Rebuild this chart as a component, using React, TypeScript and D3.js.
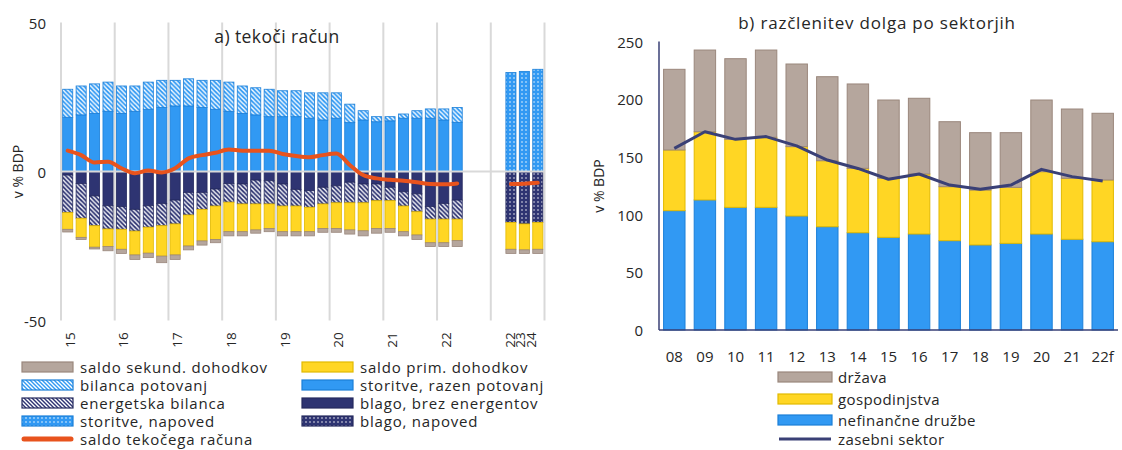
import React from 'react';
import * as d3 from 'd3';

// ---------- Left chart data (a) tekoči račun), % BDP ----------
const quarterYears = ['15', '16', '17', '18', '19', '20', '21', '22'];
const quarterNames = ['Q1', 'Q2', 'Q3', 'Q4'];
const forecastLabels = ['22', '23', '24'];

const storitveRazenPotovanj = [18.2, 19.0, 19.5, 20.2, 19.5, 20.2, 20.9, 21.5, 22.0, 22.0, 21.5, 20.9, 20.2, 19.5, 19.0, 18.4, 18.4, 18.4, 17.9, 17.3, 17.9, 16.4, 17.3, 16.7, 17.0, 17.9, 17.9, 17.9, 17.3, 16.5];
const bilancaPotovanj = [9.4, 9.7, 9.9, 9.8, 9.2, 8.5, 9.1, 9.1, 8.6, 9.1, 9.1, 9.7, 9.8, 9.2, 9.1, 9.2, 8.7, 8.7, 8.5, 9.1, 8.5, 6.2, 3.1, 1.7, 1.4, 1.4, 2.5, 3.1, 3.7, 5.0];
const blagoBrezEnergentov = [-1.2, -4.0, -8.2, -11.5, -11.8, -12.7, -11.5, -10.7, -9.6, -7.0, -7.0, -5.9, -4.0, -4.2, -2.9, -3.1, -4.2, -6.0, -6.4, -5.3, -4.8, -3.6, -4.2, -4.2, -5.3, -6.8, -7.5, -11.8, -10.7, -9.6];
const energetskaBilanca = [-12.6, -11.7, -10.0, -7.8, -7.6, -7.3, -7.2, -7.5, -8.0, -7.6, -5.7, -5.7, -6.3, -6.7, -8.0, -7.8, -7.4, -5.6, -5.6, -5.6, -5.7, -6.9, -6.3, -5.6, -4.5, -4.8, -6.0, -4.2, -5.3, -6.4];
const saldoPrimDohodkov = [-5.6, -6.4, -7.2, -5.9, -6.7, -8.0, -8.7, -10.2, -10.4, -10.4, -10.6, -11.2, -9.9, -9.3, -8.7, -8.2, -8.6, -8.6, -8.2, -8.2, -8.6, -9.1, -9.4, -9.3, -9.3, -8.6, -7.8, -7.9, -7.9, -7.2];
const saldoSekundDohodkov = [-0.9, -0.7, -0.6, -1.4, -1.4, -1.5, -1.5, -2.2, -1.5, -1.3, -1.4, -1.1, -1.4, -1.4, -1.1, -1.1, -1.4, -1.4, -1.4, -1.3, -1.3, -1.4, -1.7, -1.6, -1.3, -1.4, -1.5, -1.3, -1.3, -2.0];
const saldoTekocegaRacuna = [7.0, 5.5, 3.0, 3.3, 1.1, -0.6, 0.3, -0.3, 1.1, 4.4, 5.5, 6.3, 7.4, 7.0, 7.0, 7.0, 5.9, 5.2, 4.8, 5.5, 6.0, 2.2, -1.2, -2.3, -2.8, -3.1, -3.6, -4.2, -4.3, -4.0];

const storitveNapoved = [33.2, 33.6, 34.3];
const blagoNapoved = [-17.1, -17.6, -17.1];
const primNapoved = [-9.0, -8.7, -9.0];
const sekundNapoved = [-1.4, -1.2, -1.4];
const saldoNapoved = [-4.2, -4.1, -3.8];

// ---------- Right chart data (b) razčlenitev dolga po sektorjih) ----------
const debtYears = ['08', '09', '10', '11', '12', '13', '14', '15', '16', '17', '18', '19', '20', '21', '22f'];
const nefinancneDruzbe = [103.4, 112.7, 106.3, 106.3, 98.8, 89.5, 84.3, 80.3, 83.2, 77.4, 73.7, 75.1, 83.2, 78.6, 76.5];
const gospodinjstva = [52.6, 59.1, 58.9, 60.7, 60.1, 57.2, 55.8, 51.2, 52.0, 46.8, 47.6, 48.5, 54.0, 52.9, 53.5];
const drzava = [69.9, 70.8, 69.9, 75.6, 71.6, 72.8, 73.1, 67.8, 65.6, 56.3, 49.7, 47.4, 62.1, 60.0, 57.8];
const zasebniSektor = [157.4, 171.8, 165.2, 167.6, 159.5, 147.3, 140.0, 130.6, 135.2, 125.6, 121.9, 125.6, 139.2, 132.9, 129.1];

const leftYTicks = [-50, 0, 50];
const rightYTicks = [0, 50, 100, 150, 200, 250];

// ---------- Colors ----------
const C = {
  gray: '#b5a69d', grayS: '#9a877c',
  yellow: '#ffd624', yellowS: '#e2b900',
  blue: '#3199f3', blueS: '#1b7fd8',
  navy: '#2e3472', navyS: '#252a5e',
  orange: '#e8531d',
  grid: '#d9d9d9',
  axis: '#3a4076',
  text: '#262626',
};
const FONT = "'Open Sans', 'Noto Sans', sans-serif";

// ---------- Build left table ----------
const quarterKeys: string[] = [];
quarterYears.forEach((y) => quarterNames.forEach((q) => quarterKeys.push(y + q)));
const leftCats: string[] = [...quarterKeys.slice(0, storitveRazenPotovanj.length), 'gapA', 'gapB', 'gapC', ...forecastLabels.map((f) => f + 'f')];

type Row = Record<string, number>;
const leftKeys = ['storitve', 'potovanja', 'storitveNap', 'blago', 'energija', 'blagoNap', 'prim', 'sekund'];
const leftRows: Row[] = leftCats.map((c, i) => {
  const r: Row = { idx: i } as Row;
  leftKeys.forEach((k) => (r[k] = 0));
  if (i < storitveRazenPotovanj.length) {
    r.storitve = storitveRazenPotovanj[i];
    r.potovanja = bilancaPotovanj[i];
    r.blago = blagoBrezEnergentov[i];
    r.energija = energetskaBilanca[i];
    r.prim = saldoPrimDohodkov[i];
    r.sekund = saldoSekundDohodkov[i];
  } else if (i >= leftCats.length - forecastLabels.length) {
    const j = i - (leftCats.length - forecastLabels.length);
    r.storitveNap = storitveNapoved[j];
    r.blagoNap = blagoNapoved[j];
    r.prim = primNapoved[j];
    r.sekund = sekundNapoved[j];
  }
  return r;
});

const leftFill: Record<string, string> = {
  storitve: C.blue, potovanja: 'url(#hatchBlue)', storitveNap: 'url(#dotBlue)',
  blago: C.navy, energija: 'url(#hatchNavy)', blagoNap: 'url(#dotNavy)',
  prim: C.yellow, sekund: C.gray,
};
const leftStroke: Record<string, string> = {
  storitve: C.blueS, potovanja: C.blueS, storitveNap: C.blueS,
  blago: C.navyS, energija: C.navyS, blagoNap: C.navyS,
  prim: C.yellowS, sekund: C.grayS,
};

export default function App() {
  // Left scales
  const xL = d3.scaleBand<number>().domain(d3.range(leftCats.length)).range([61, 544.5]).paddingInner(0.25).paddingOuter(0.125);
  const yL = d3.scaleLinear().domain([-50, 50]).range([320.5, 22.5]);
  const stackL = d3.stack<Row>().keys(leftKeys).offset(d3.stackOffsetDiverging)(leftRows);
  const gx = (i: number) => xL.range()[0] + i * xL.step();
  const gridIdx = d3.range(0, leftCats.length + 1, 4);
  const bw = xL.bandwidth();
  const cx = (i: number) => (xL(i) as number) + bw / 2;

  const lineL = d3.line<number>().x((_, i) => cx(i)).y((d) => yL(d)).curve(d3.curveMonotoneX);
  const fcStart = leftCats.length - forecastLabels.length;
  const lineLF = d3.line<number>().x((_, i) => cx(fcStart + i)).y((d) => yL(d)).curve(d3.curveMonotoneX);

  // Right scales
  const xR = d3.scaleBand<string>().domain(debtYears).range([659, 1118]).paddingInner(0.3).paddingOuter(0.15);
  const yR = d3.scaleLinear().domain([0, 250]).range([330, 41.5]);
  const rightRows = debtYears.map((y, i) => ({ y, nefin: nefinancneDruzbe[i], gosp: gospodinjstva[i], drz: drzava[i] }));
  const stackR = d3.stack<any>().keys(['nefin', 'gosp', 'drz'])(rightRows);
  const rFill: Record<string, string> = { nefin: C.blue, gosp: C.yellow, drz: C.gray };
  const rStroke: Record<string, string> = { nefin: C.blueS, gosp: C.yellowS, drz: C.grayS };
  const lineR = d3.line<number>().x((_, i) => (xR(debtYears[i]) as number) + xR.bandwidth() / 2).y((d) => yR(d));

  const leftLegend = [
    [{ label: 'saldo sekund. dohodkov', fill: C.gray, stroke: C.grayS }, { label: 'saldo prim. dohodkov', fill: C.yellow, stroke: C.yellowS }],
    [{ label: 'bilanca potovanj', fill: 'url(#hatchBlueL)', stroke: C.blueS }, { label: 'storitve, razen potovanj', fill: C.blue, stroke: C.blueS }],
    [{ label: 'energetska bilanca', fill: 'url(#hatchNavyL)', stroke: C.navyS }, { label: 'blago, brez energentov', fill: C.navy, stroke: C.navyS }],
    [{ label: 'storitve, napoved', fill: 'url(#dotBlue)', stroke: C.blueS }, { label: 'blago, napoved', fill: 'url(#dotNavy)', stroke: C.navyS }],
  ];
  const legRowsY = [367, 385, 403, 421, 439];
  const rightLegend = [
    { label: 'država', fill: C.gray, stroke: C.grayS },
    { label: 'gospodinjstva', fill: C.yellow, stroke: C.yellowS },
    { label: 'nefinančne družbe', fill: C.blue, stroke: C.blueS },
  ];
  const rLegY = [377, 399, 420, 439];

  const hatch = (id: string, bg: string, size: number) => (
    <pattern id={id} width={size} height={size} patternUnits="userSpaceOnUse">
      <rect width={size} height={size} fill={bg} />
      <path d={`M-1,-1 L${size + 1},${size + 1} M-1,${size - 1} L1,${size + 1} M${size - 1},-1 L${size + 1},1`} stroke="#fff" strokeWidth={1.4} />
    </pattern>
  );
  const dots = (id: string, bg: string) => (
    <pattern id={id} width={4} height={4} patternUnits="userSpaceOnUse">
      <rect width={4} height={4} fill={bg} />
      <circle cx={2} cy={2} r={0.75} fill="#fff" />
    </pattern>
  );

  return (
    <svg width={1122} height={450} style={{ position: 'absolute', left: 0, top: 0, background: '#fff' }} fontFamily={FONT}>
      <defs>
        {hatch('hatchBlue', C.blue, 4.5)}
        {hatch('hatchNavy', C.navy, 4.5)}
        {hatch('hatchBlueL', C.blue, 4)}
        {hatch('hatchNavyL', C.navy, 4)}
        {dots('dotBlue', C.blue)}
        {dots('dotNavy', C.navy)}
      </defs>

      {/* ---------------- Left chart ---------------- */}
      {gridIdx.map((i) => (
        <line key={'g' + i} x1={gx(i)} x2={gx(i)} y1={yL(50)} y2={yL(-50)} stroke={C.grid} strokeWidth={2} />
      ))}
      {stackL.map((s) => (
        <g key={s.key}>
          {s.map((d, i) =>
            d[1] - d[0] === 0 ? null : (
              <rect key={i} x={xL(i)} width={bw} y={yL(d[1])} height={Math.abs(yL(d[0]) - yL(d[1]))}
                fill={leftFill[s.key]} stroke={leftStroke[s.key]} strokeWidth={0.8} />
            )
          )}
        </g>
      ))}
      <line x1={gx(0)} x2={gx(leftCats.length)} y1={yL(0)} y2={yL(0)} stroke={C.grid} strokeWidth={2} />
      <path d={lineL(saldoTekocegaRacuna) || ''} fill="none" stroke={C.orange} strokeWidth={4} strokeLinejoin="round" strokeLinecap="round" />
      <path d={lineLF(saldoNapoved) || ''} fill="none" stroke={C.orange} strokeWidth={4} strokeLinecap="round" />

      {leftYTicks.map((t) => (
        <text key={t} x={46} y={yL(t)} textAnchor="end" dominantBaseline="central" fontSize={15} fill={C.text}>{t}</text>
      ))}
      <text transform={`translate(17,${yL(0)}) rotate(-90)`} textAnchor="middle" dominantBaseline="central" fontSize={14} fill={C.text}>v % BDP</text>
      <text x={277} y={36} textAnchor="middle" dominantBaseline="central" fontSize={17.5} letterSpacing={0.4} fill={C.text}>a) tekoči račun</text>
      {quarterYears.map((y, k) => (
        <text key={'xl' + k} transform={`translate(${cx(k * 4) + 2},340) rotate(-90)`} textAnchor="middle" dominantBaseline="central" fontSize={13.5} fill={C.text}>{y}</text>
      ))}
      {forecastLabels.map((y, k) => (
        <text key={'xf' + k} transform={`translate(${cx(fcStart + k) - 1 - k * 3},340) rotate(-90)`} textAnchor="middle" dominantBaseline="central" fontSize={13.5} fill={C.text}>{y}</text>
      ))}

      {/* Left legend */}
      {leftLegend.map((row, r) =>
        row.map((it, c) => (
          <g key={'ll' + r + c}>
            <rect x={c === 0 ? 22 : 302} y={legRowsY[r] - 5} width={51} height={10} fill={it.fill} stroke={it.stroke} strokeWidth={1.2} />
            <text x={c === 0 ? 80 : 360} y={legRowsY[r]} dominantBaseline="central" fontSize={15} letterSpacing={0.8} fill={C.text}>{it.label}</text>
          </g>
        ))
      )}
      <line x1={24} x2={71} y1={legRowsY[4]} y2={legRowsY[4]} stroke={C.orange} strokeWidth={5} strokeLinecap="round" />
      <text x={80} y={legRowsY[4]} dominantBaseline="central" fontSize={15} letterSpacing={0.8} fill={C.text}>saldo tekočega računa</text>

      {/* ---------------- Right chart ---------------- */}
      {stackR.map((s) => (
        <g key={s.key}>
          {s.map((d, i) => (
            <rect key={i} x={xR(debtYears[i])} width={xR.bandwidth()} y={yR(d[1])} height={yR(d[0]) - yR(d[1])}
              fill={rFill[s.key]} stroke={rStroke[s.key]} strokeWidth={1} />
          ))}
        </g>
      ))}
      <path d={lineR(zasebniSektor) || ''} fill="none" stroke={C.axis} strokeWidth={3} strokeLinejoin="round" />
      <line x1={659} x2={659} y1={yR(250)} y2={yR(0)} stroke={C.axis} strokeWidth={1.5} />
      <line x1={659} x2={1118} y1={yR(0)} y2={yR(0)} stroke={C.axis} strokeWidth={1.5} />
      {rightYTicks.map((t) => (
        <text key={t} x={643} y={yR(t)} textAnchor="end" dominantBaseline="central" fontSize={15} fill={C.text}>{t}</text>
      ))}
      {debtYears.map((y) => (
        <text key={y} x={(xR(y) as number) + xR.bandwidth() / 2} y={356} textAnchor="middle" dominantBaseline="central" fontSize={15} fill={C.text}>{y}</text>
      ))}
      <text transform={`translate(598,186) rotate(-90)`} textAnchor="middle" dominantBaseline="central" fontSize={14} fill={C.text}>v % BDP</text>
      <text x={877} y={22} textAnchor="middle" dominantBaseline="central" fontSize={17} letterSpacing={0.8} fill={C.text}>b) razčlenitev dolga po sektorjih</text>

      {rightLegend.map((it, r) => (
        <g key={'rl' + r}>
          <rect x={778} y={rLegY[r] - 5} width={54} height={10} fill={it.fill} stroke={it.stroke} strokeWidth={1.2} />
          <text x={838} y={rLegY[r]} dominantBaseline="central" fontSize={15} letterSpacing={0.4} fill={C.text}>{it.label}</text>
        </g>
      ))}
      <line x1={779} x2={831} y1={rLegY[3]} y2={rLegY[3]} stroke={C.axis} strokeWidth={3} />
      <text x={838} y={rLegY[3]} dominantBaseline="central" fontSize={15} letterSpacing={0.4} fill={C.text}>zasebni sektor</text>
    </svg>
  );
}
